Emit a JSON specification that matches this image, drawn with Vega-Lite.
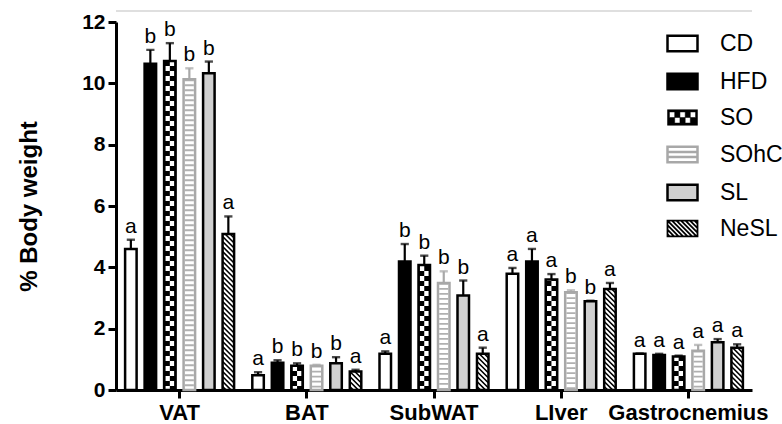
{
  "$schema": "https://vega.github.io/schema/vega-lite/v6.json",
  "width": 636,
  "height": 368,
  "autosize": {"type": "none"},
  "padding": {"left": 116, "top": 22, "right": 30, "bottom": 34},
  "background": "white",
  "config": {
    "view": {"stroke": null},
    "font": "Liberation Sans",
    "axis": {"domainColor": "black", "domainWidth": 3, "tickColor": "black", "tickWidth": 3, "tickSize": 8, "labelColor": "black", "labelFont": "Liberation Sans", "labelFontWeight": "bold", "grid": false, "zindex": 1, "titleFont": "Liberation Sans", "titleFontWeight": "bold", "titleColor": "black"},
    "axisX": {"labelFontSize": 22, "labelPadding": 4, "labelAngle": 0},
    "axisY": {"labelFontSize": 21, "labelPadding": 3, "titleFontSize": 24, "titlePadding": 40}
  },
  "data": {"values": [
    {"tissue": "VAT", "group": "CD", "mean": 4.6, "upper": 4.9, "sig": "a"},
    {"tissue": "VAT", "group": "HFD", "mean": 10.64, "upper": 11.09, "sig": "b"},
    {"tissue": "VAT", "group": "SO", "mean": 10.73, "upper": 11.31, "sig": "b"},
    {"tissue": "VAT", "group": "SOhC", "mean": 10.13, "upper": 10.49, "sig": "b"},
    {"tissue": "VAT", "group": "SL", "mean": 10.33, "upper": 10.71, "sig": "b"},
    {"tissue": "VAT", "group": "NeSL", "mean": 5.09, "upper": 5.66, "sig": "a"},
    {"tissue": "BAT", "group": "CD", "mean": 0.48, "upper": 0.58, "sig": "a"},
    {"tissue": "BAT", "group": "HFD", "mean": 0.89, "upper": 0.97, "sig": "b"},
    {"tissue": "BAT", "group": "SO", "mean": 0.79, "upper": 0.87, "sig": "b"},
    {"tissue": "BAT", "group": "SOhC", "mean": 0.79, "upper": 0.82, "sig": "b"},
    {"tissue": "BAT", "group": "SL", "mean": 0.87, "upper": 1.07, "sig": "b"},
    {"tissue": "BAT", "group": "NeSL", "mean": 0.6, "upper": 0.66, "sig": "a"},
    {"tissue": "SubWAT", "group": "CD", "mean": 1.18, "upper": 1.26, "sig": "a"},
    {"tissue": "SubWAT", "group": "HFD", "mean": 4.19, "upper": 4.76, "sig": "b"},
    {"tissue": "SubWAT", "group": "SO", "mean": 4.08, "upper": 4.38, "sig": "b"},
    {"tissue": "SubWAT", "group": "SOhC", "mean": 3.49, "upper": 3.87, "sig": "b"},
    {"tissue": "SubWAT", "group": "SL", "mean": 3.08, "upper": 3.57, "sig": "b"},
    {"tissue": "SubWAT", "group": "NeSL", "mean": 1.18, "upper": 1.38, "sig": "a"},
    {"tissue": "LIver", "group": "CD", "mean": 3.79, "upper": 3.98, "sig": "a"},
    {"tissue": "LIver", "group": "HFD", "mean": 4.19, "upper": 4.6, "sig": "a"},
    {"tissue": "LIver", "group": "SO", "mean": 3.6, "upper": 3.78, "sig": "a"},
    {"tissue": "LIver", "group": "SOhC", "mean": 3.19, "upper": 3.25, "sig": "b"},
    {"tissue": "LIver", "group": "SL", "mean": 2.89, "upper": 2.91, "sig": "b"},
    {"tissue": "LIver", "group": "NeSL", "mean": 3.29, "upper": 3.49, "sig": "a"},
    {"tissue": "Gastrocnemius", "group": "CD", "mean": 1.18, "upper": 1.19, "sig": "a"},
    {"tissue": "Gastrocnemius", "group": "HFD", "mean": 1.14, "upper": 1.18, "sig": "a"},
    {"tissue": "Gastrocnemius", "group": "SO", "mean": 1.09, "upper": 1.12, "sig": "a"},
    {"tissue": "Gastrocnemius", "group": "SOhC", "mean": 1.28, "upper": 1.47, "sig": "a"},
    {"tissue": "Gastrocnemius", "group": "SL", "mean": 1.56, "upper": 1.66, "sig": "a"},
    {"tissue": "Gastrocnemius", "group": "NeSL", "mean": 1.38, "upper": 1.49, "sig": "a"}
  ]},
  "layer": [
    {
      "encoding": {
        "x": {"field": "tissue", "type": "nominal", "title": null, "sort": ["VAT", "BAT", "SubWAT", "LIver", "Gastrocnemius"], "scale": {"domain": ["VAT", "BAT", "SubWAT", "LIver", "Gastrocnemius"], "paddingInner": 0, "paddingOuter": 0}},
        "xOffset": {"field": "group", "type": "nominal", "sort": ["CD", "HFD", "SO", "SOhC", "SL", "NeSL"], "scale": {"domain": ["CD", "HFD", "SO", "SOhC", "SL", "NeSL"], "paddingInner": 0.41, "paddingOuter": 0.467}}
      },
      "layer": [
        {
          "mark": {"type": "bar", "strokeWidth": 0},
          "encoding": {
            "y": {"field": "mean", "type": "quantitative", "title": "% Body weight", "scale": {"domain": [0, 12], "nice": false, "zero": true}, "axis": {"values": [0, 2, 4, 6, 8, 10, 12]}},
            "fill": {"field": "group", "type": "nominal", "scale": {"domain": ["CD", "HFD", "SO", "SOhC", "SL", "NeSL"], "range": ["white", "black", "black", "white", "#d0d0d0", "white"]},
              "legend": {"orient": "none", "legendX": 555, "legendY": 10, "title": null, "symbolSize": 900, "labelFontSize": 23, "labelFont": "Liberation Sans", "labelColor": "black", "labelOffset": 26, "rowPadding": 11, "padding": 0, "symbolStrokeWidth": 2.5,
                "encode": {"symbols": {"update": {
                  "shape": {"signal": "datum.value === 'SO' ? 'M-1 -0.52H1V0.52H-1ZM-0.87 -0.37V0H-0.52V-0.37ZM-0.17 -0.37V0H0.18V-0.37ZM0.52 -0.37V0H0.87V-0.37ZM-0.52 0V0.37H-0.17V0ZM0.18 0V0.37H0.52V0Z' : datum.value === 'SOhC' ? 'M-1 -0.52H1V0.52H-1ZM-1 -0.17H1M-1 0.17H1' : datum.value === 'NeSL' ? 'M-1 -0.52H1V0.52H-1ZM-1 0.38L-0.86 0.52M-1 0.08L-0.56 0.52M-1 -0.22L-0.26 0.52M-1 -0.52L0.04 0.52M-0.7 -0.52L0.34 0.52M-0.4 -0.52L0.64 0.52M-0.1 -0.52L0.94 0.52M0.2 -0.52L1 0.28M0.5 -0.52L1 -0.02M0.8 -0.52L1 -0.32' : 'M-1 -0.52H1V0.52H-1Z'"},
                  "stroke": {"signal": "datum.value === 'SOhC' ? '#a8a8a8' : 'black'"},
                  "strokeWidth": {"signal": "datum.value === 'SO' ? 0.5 : datum.value === 'NeSL' ? 1.8 : 2.5"},
                  "opacity": {"value": 1}
                }}}
              }
            }
          }
        },
        {
          "transform": [{"filter": "datum.group === 'NeSL'"}],
          "mark": {"type": "bar", "strokeWidth": 0, "fill": "black"},
          "encoding": {"y": {"field": "mean", "type": "quantitative", "title": "% Body weight"}}
        },
        {
          "transform": [{"filter": "datum.group === 'SO'"}],
          "mark": {"type": "point", "shape": "M-4.5 -190h4.5v5h-4.5v-5zm4.5 5h4.5v5h-4.5v-5zm-4.5 5h4.5v5h-4.5v-5zm4.5 5h4.5v5h-4.5v-5zm-4.5 5h4.5v5h-4.5v-5zm4.5 5h4.5v5h-4.5v-5zm-4.5 5h4.5v5h-4.5v-5zm4.5 5h4.5v5h-4.5v-5zm-4.5 5h4.5v5h-4.5v-5zm4.5 5h4.5v5h-4.5v-5zm-4.5 5h4.5v5h-4.5v-5zm4.5 5h4.5v5h-4.5v-5zm-4.5 5h4.5v5h-4.5v-5zm4.5 5h4.5v5h-4.5v-5zm-4.5 5h4.5v5h-4.5v-5zm4.5 5h4.5v5h-4.5v-5zm-4.5 5h4.5v5h-4.5v-5zm4.5 5h4.5v5h-4.5v-5zm-4.5 5h4.5v5h-4.5v-5zm4.5 5h4.5v5h-4.5v-5zm-4.5 5h4.5v5h-4.5v-5zm4.5 5h4.5v5h-4.5v-5zm-4.5 5h4.5v5h-4.5v-5zm4.5 5h4.5v5h-4.5v-5zm-4.5 5h4.5v5h-4.5v-5zm4.5 5h4.5v5h-4.5v-5zm-4.5 5h4.5v5h-4.5v-5zm4.5 5h4.5v5h-4.5v-5zm-4.5 5h4.5v5h-4.5v-5zm4.5 5h4.5v5h-4.5v-5zm-4.5 5h4.5v5h-4.5v-5zm4.5 5h4.5v5h-4.5v-5zm-4.5 5h4.5v5h-4.5v-5zm4.5 5h4.5v5h-4.5v-5zm-4.5 5h4.5v5h-4.5v-5zm4.5 5h4.5v5h-4.5v-5zm-4.5 5h4.5v5h-4.5v-5zm4.5 5h4.5v5h-4.5v-5zm-4.5 5h4.5v5h-4.5v-5zm4.5 5h4.5v5h-4.5v-5zm-4.5 5h4.5v5h-4.5v-5zm4.5 5h4.5v5h-4.5v-5zm-4.5 5h4.5v5h-4.5v-5zm4.5 5h4.5v5h-4.5v-5zm-4.5 5h4.5v5h-4.5v-5zm4.5 5h4.5v5h-4.5v-5zm-4.5 5h4.5v5h-4.5v-5zm4.5 5h4.5v5h-4.5v-5zm-4.5 5h4.5v5h-4.5v-5zm4.5 5h4.5v5h-4.5v-5zm-4.5 5h4.5v5h-4.5v-5zm4.5 5h4.5v5h-4.5v-5zm-4.5 5h4.5v5h-4.5v-5zm4.5 5h4.5v5h-4.5v-5zm-4.5 5h4.5v5h-4.5v-5zm4.5 5h4.5v5h-4.5v-5zm-4.5 5h4.5v5h-4.5v-5zm4.5 5h4.5v5h-4.5v-5zm-4.5 5h4.5v5h-4.5v-5zm4.5 5h4.5v5h-4.5v-5zm-4.5 5h4.5v5h-4.5v-5zm4.5 5h4.5v5h-4.5v-5zm-4.5 5h4.5v5h-4.5v-5zm4.5 5h4.5v5h-4.5v-5zm-4.5 5h4.5v5h-4.5v-5zm4.5 5h4.5v5h-4.5v-5zm-4.5 5h4.5v5h-4.5v-5zm4.5 5h4.5v5h-4.5v-5zm-4.5 5h4.5v5h-4.5v-5zm4.5 5h4.5v5h-4.5v-5zm-4.5 5h4.5v5h-4.5v-5zm4.5 5h4.5v5h-4.5v-5zm-4.5 5h4.5v5h-4.5v-5zm4.5 5h4.5v5h-4.5v-5zm-4.5 5h4.5v5h-4.5v-5zm4.5 5h4.5v5h-4.5v-5zm-4.5 5", "size": 4, "filled": true, "fill": "white", "strokeWidth": 0, "opacity": 1, "clip": true},
          "encoding": {"y": {"datum": 6, "type": "quantitative", "title": "% Body weight"}}
        },
        {
          "transform": [{"filter": "datum.group === 'SOhC'"}],
          "mark": {"type": "rule", "strokeWidth": 9, "strokeDash": [1.8, 3.2], "color": "#b0b0b0"},
          "encoding": {"y": {"field": "mean", "type": "quantitative", "title": "% Body weight"}, "y2": {"datum": 0}}
        },
        {
          "transform": [{"filter": "datum.group === 'NeSL'"}],
          "mark": {"type": "point", "shape": "M-5.75 -202l11.5 11.5m-11.5 -6.5l11.5 11.5m-11.5 -6.5l11.5 11.5m-11.5 -6.5l11.5 11.5m-11.5 -6.5l11.5 11.5m-11.5 -6.5l11.5 11.5m-11.5 -6.5l11.5 11.5m-11.5 -6.5l11.5 11.5m-11.5 -6.5l11.5 11.5m-11.5 -6.5l11.5 11.5m-11.5 -6.5l11.5 11.5m-11.5 -6.5l11.5 11.5m-11.5 -6.5l11.5 11.5m-11.5 -6.5l11.5 11.5m-11.5 -6.5l11.5 11.5m-11.5 -6.5l11.5 11.5m-11.5 -6.5l11.5 11.5m-11.5 -6.5l11.5 11.5m-11.5 -6.5l11.5 11.5m-11.5 -6.5l11.5 11.5m-11.5 -6.5l11.5 11.5m-11.5 -6.5l11.5 11.5m-11.5 -6.5l11.5 11.5m-11.5 -6.5l11.5 11.5m-11.5 -6.5l11.5 11.5m-11.5 -6.5l11.5 11.5m-11.5 -6.5l11.5 11.5m-11.5 -6.5l11.5 11.5m-11.5 -6.5l11.5 11.5m-11.5 -6.5l11.5 11.5m-11.5 -6.5l11.5 11.5m-11.5 -6.5l11.5 11.5m-11.5 -6.5l11.5 11.5m-11.5 -6.5l11.5 11.5m-11.5 -6.5l11.5 11.5m-11.5 -6.5l11.5 11.5m-11.5 -6.5l11.5 11.5m-11.5 -6.5l11.5 11.5m-11.5 -6.5l11.5 11.5m-11.5 -6.5l11.5 11.5m-11.5 -6.5l11.5 11.5m-11.5 -6.5l11.5 11.5m-11.5 -6.5l11.5 11.5m-11.5 -6.5l11.5 11.5m-11.5 -6.5l11.5 11.5m-11.5 -6.5l11.5 11.5m-11.5 -6.5l11.5 11.5m-11.5 -6.5l11.5 11.5m-11.5 -6.5l11.5 11.5m-11.5 -6.5l11.5 11.5m-11.5 -6.5l11.5 11.5m-11.5 -6.5l11.5 11.5m-11.5 -6.5l11.5 11.5m-11.5 -6.5l11.5 11.5m-11.5 -6.5l11.5 11.5m-11.5 -6.5l11.5 11.5m-11.5 -6.5l11.5 11.5m-11.5 -6.5l11.5 11.5m-11.5 -6.5l11.5 11.5m-11.5 -6.5l11.5 11.5m-11.5 -6.5l11.5 11.5m-11.5 -6.5l11.5 11.5m-11.5 -6.5l11.5 11.5m-11.5 -6.5l11.5 11.5m-11.5 -6.5l11.5 11.5m-11.5 -6.5l11.5 11.5m-11.5 -6.5l11.5 11.5m-11.5 -6.5l11.5 11.5m-11.5 -6.5l11.5 11.5m-11.5 -6.5l11.5 11.5m-11.5 -6.5l11.5 11.5m-11.5 -6.5l11.5 11.5m-11.5 -6.5l11.5 11.5m-11.5 -6.5l11.5 11.5m-11.5 -6.5l11.5 11.5m-11.5 -6.5l11.5 11.5m-11.5 -6.5l11.5 11.5m-11.5 -6.5l11.5 11.5m-11.5 -6.5l11.5 11.5m-11.5 -6.5", "size": 4, "filled": false, "fill": null, "stroke": "white", "strokeWidth": 1.9, "strokeCap": "butt", "opacity": 1, "clip": true},
          "encoding": {"y": {"datum": 6, "type": "quantitative", "title": "% Body weight"}}
        },
        {
          "mark": {"type": "bar", "fill": "transparent", "strokeWidth": 2.5},
          "encoding": {
            "y": {"field": "mean", "type": "quantitative", "title": "% Body weight"},
            "stroke": {"field": "group", "type": "nominal", "scale": {"domain": ["CD", "HFD", "SO", "SOhC", "SL", "NeSL"], "range": ["black", "black", "black", "#a8a8a8", "black", "black"]}, "legend": null}
          }
        },
        {
          "mark": {"type": "rule", "strokeWidth": 2.2},
          "encoding": {
            "y": {"field": "mean", "type": "quantitative", "title": "% Body weight"},
            "y2": {"field": "upper"},
            "stroke": {"field": "group", "type": "nominal", "legend": null}
          }
        },
        {
          "mark": {"type": "tick", "size": 6, "thickness": 0.2, "strokeWidth": 2.2, "fill": "transparent"},
          "encoding": {
            "y": {"field": "upper", "type": "quantitative", "title": "% Body weight"},
            "stroke": {"field": "group", "type": "nominal", "legend": null}
          }
        },
        {
          "mark": {"type": "text", "fontSize": 21, "font": "Liberation Sans", "baseline": "alphabetic", "dy": -7, "color": "black"},
          "encoding": {
            "y": {"field": "upper", "type": "quantitative", "title": "% Body weight"},
            "text": {"field": "sig"}
          }
        }
      ]
    },
    {
      "data": {"values": [{"line": "frame"}]},
      "mark": {"type": "rule", "color": "#d4d4d4", "strokeWidth": 1.5, "clip": false},
      "encoding": {"y": {"datum": 12.36, "type": "quantitative", "title": "% Body weight"}}
    }
  ]
}
